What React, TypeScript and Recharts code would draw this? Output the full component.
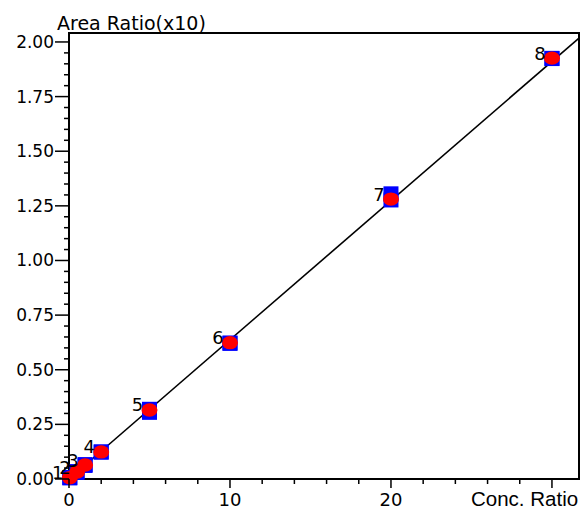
import React from 'react';
import { ScatterChart, Scatter, XAxis, YAxis, ReferenceArea, Label } from 'recharts';

// Calibration levels (Conc. Ratio) and measured Area Ratio (x10)
const conc = [0.05, 0.5, 1, 2, 5, 10, 20, 30];
const pointLabels = ['1', '2', '3', '4', '5', '6', '7', '8'];
const ratioRep1 = [0.007, 0.034, 0.066, 0.124, 0.319, 0.621, 1.305, 1.925];
const ratioRep2 = [0.005, 0.030, 0.062, 0.123, 0.305, 0.622, 1.277, 1.924];
const ratioMean = [0.006, 0.032, 0.064, 0.124, 0.316, 0.624, 1.281, 1.926];

// Regression line end points
const fitX = [0, 31.68];
const fitY = [0.0, 2.018];

// Axis ticks
const xMajorTicks = [0, 10, 20, 30];
const xTickLabels = ['0', '10', '20', ''];
const xMinorStep = 2;
const yMajorTicks = [0, 0.25, 0.5, 0.75, 1.0, 1.25, 1.5, 1.75, 2.0];
const yMinorPerMajor = 5;

const X_DOMAIN: [number, number] = [0, 31.68];
const Y_DOMAIN: [number, number] = [0, 2.041];

const FONT = '"DejaVu Sans", sans-serif';
const FONT2 = '"Liberation Sans", Arial, sans-serif';

const rep1Data = conc.map((x, i) => ({ x, y: ratioRep1[i] }));
const rep2Data = conc.map((x, i) => ({ x, y: ratioRep2[i] }));
const meanData = conc.map((x, i) => ({ x, y: ratioMean[i], label: pointLabels[i] }));
const fitData = fitX.map((x, i) => ({ x, y: fitY[i] }));

const xAllTicks: number[] = [];
for (let v = xMajorTicks[0]; v <= xMajorTicks[xMajorTicks.length - 1] + 1e-9; v += xMinorStep) {
  xAllTicks.push(Math.round(v * 1000) / 1000);
}
const yAllTicks: number[] = [];
for (let i = 0; i < yMajorTicks.length - 1; i++) {
  const a = yMajorTicks[i];
  const b = yMajorTicks[i + 1];
  for (let k = 0; k < yMinorPerMajor; k++) {
    yAllTicks.push(Math.round((a + ((b - a) * k) / yMinorPerMajor) * 1000) / 1000);
  }
}
yAllTicks.push(yMajorTicks[yMajorTicks.length - 1]);

const isYMajor = (v: number) => yMajorTicks.some((m) => Math.abs(m - v) < 1e-6);

const YTick = (props: any) => {
  const { x, y, payload } = props;
  const v = payload.value as number;
  const major = isYMajor(v);
  return (
    <g>
      <line x1={x} x2={x - (major ? 14 : 5)} y1={y} y2={y} stroke="#000" strokeWidth={1.5} />
      {major && (
        <text x={x - 15} y={y} textAnchor="end" dominantBaseline="central" fontSize={17} fontFamily={FONT} fill="#000">
          {v.toFixed(2)}
        </text>
      )}
    </g>
  );
};

const XTick = (props: any) => {
  const { x, y, payload } = props;
  const v = payload.value as number;
  const idx = xMajorTicks.findIndex((m) => Math.abs(m - v) < 1e-6);
  const major = idx >= 0;
  return (
    <g>
      <line x1={x} x2={x} y1={y} y2={y + (major ? 9 : 5)} stroke="#000" strokeWidth={1.5} />
      {major && xTickLabels[idx] && (
        <text x={x} y={y + 27} textAnchor="middle" fontSize={18} fontFamily={FONT} fill="#000">
          {xTickLabels[idx]}
        </text>
      )}
    </g>
  );
};

const BlueSquare = (props: any) => {
  const { cx, cy } = props;
  if (cx == null || cy == null) return <g />;
  return <rect x={cx - 7.5} y={cy - 7.5} width={15} height={15} fill="#0000ff" />;
};

const RedDot = (props: any) => {
  const { cx, cy } = props;
  if (cx == null || cy == null) return <g />;
  return <ellipse cx={cx} cy={cy} rx={8} ry={6.7} fill="#ff0000" />;
};

const PointLabel = (props: any) => {
  const { cx, cy, payload } = props;
  if (cx == null || cy == null) return <g />;
  return (
    <text x={cx - 12} y={cy - 5} textAnchor="middle" dominantBaseline="central" fontSize={18} fontFamily={FONT} fill="#000">
      {payload.label}
    </text>
  );
};

const NoShape = () => <g />;

export default function App() {
  return (
    <div style={{ position: 'absolute', left: 0, top: 0, width: 581, height: 509, background: '#fff' }}>
      <ScatterChart width={581} height={509} margin={{ top: 33, right: 2, bottom: 0, left: 0 }}>
        <XAxis
          type="number"
          dataKey="x"
          domain={X_DOMAIN}
          ticks={xAllTicks}
          interval={0}
          tick={<XTick />}
          tickLine={false}
          tickSize={0}
          tickMargin={0}
          axisLine={{ stroke: '#000', strokeWidth: 2 }}
          height={30}
        >
          <Label
            content={() => (
              <text x={471} y={506} textAnchor="start" fontSize={20.5} fontFamily={FONT2} fill="#000">
                Conc. Ratio
              </text>
            )}
          />
        </XAxis>
        <YAxis
          type="number"
          dataKey="y"
          domain={Y_DOMAIN}
          ticks={yAllTicks}
          interval={0}
          tick={<YTick />}
          tickLine={false}
          tickSize={0}
          tickMargin={0}
          axisLine={{ stroke: '#000', strokeWidth: 2 }}
          width={69}
        >
          <Label
            content={() => (
              <text x={57} y={30} textAnchor="start" fontSize={19} fontFamily={FONT} fill="#000">
                Area Ratio(x10)
              </text>
            )}
          />
        </YAxis>
        <ReferenceArea
          x1={X_DOMAIN[0]}
          x2={X_DOMAIN[1]}
          y1={Y_DOMAIN[0]}
          y2={Y_DOMAIN[1]}
          fill="none"
          stroke="#000"
          strokeWidth={2}
          ifOverflow="visible"
        />
        <Scatter
          data={fitData}
          line={{ stroke: '#000', strokeWidth: 1.6 }}
          shape={<NoShape />}
          isAnimationActive={false}
        />
        <Scatter data={rep1Data} shape={<BlueSquare />} isAnimationActive={false} />
        <Scatter data={rep2Data} shape={<BlueSquare />} isAnimationActive={false} />
        <Scatter data={meanData} shape={<RedDot />} isAnimationActive={false} />
        <Scatter data={meanData} shape={<PointLabel />} isAnimationActive={false} />
      </ScatterChart>
    </div>
  );
}
